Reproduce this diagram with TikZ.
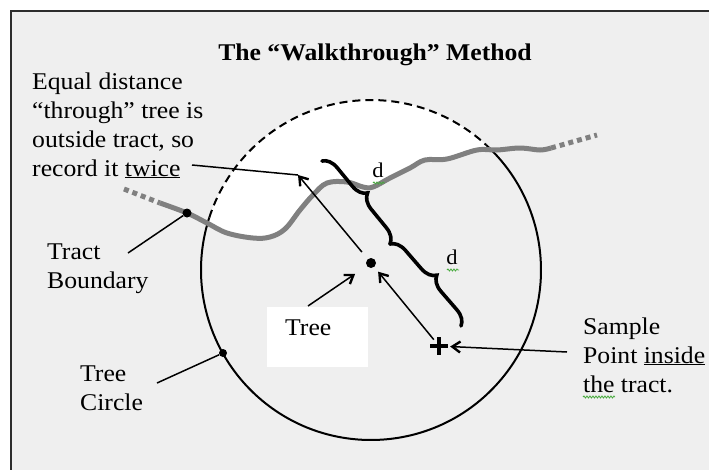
\documentclass[tikz,border=0pt]{standalone}
\usepackage{fontspec}
\setmainfont{Liberation Serif}[FakeStretch=1.07]
\usetikzlibrary{arrows.meta,decorations.pathreplacing,decorations.pathmorphing}
\definecolor{bgc}{RGB}{239,239,239}
\definecolor{framec}{RGB}{45,45,45}
\definecolor{bndc}{RGB}{128,128,128}
\definecolor{squigc}{RGB}{70,170,60}
\begin{document}
\begin{tikzpicture}[x=1pt,y=-1pt,
  lbl/.style={inner sep=0pt, anchor=base west, align=left, font=\fontsize{24}{29}\selectfont},
  ttl/.style={inner sep=0pt, anchor=base, font=\fontsize{24}{29}\selectfont\bfseries},
  dlbl/.style={inner sep=0pt, anchor=base, font=\fontsize{21}{24}\selectfont},
  dot/.style={circle, fill=black, inner sep=0pt, minimum size=#1},
  arr/.style={line width=1.5pt, -{Straight Barb[length=8pt,width=11pt,line width=2.4pt]}},
  leader/.style={line width=1.5pt},
  bnd/.style={bndc, line width=5pt},
  bracestyle/.style={decorate, decoration={brace, amplitude=15pt, aspect=0.5}, line width=3.6pt, line cap=round},
  squig/.style={squigc, line width=0.8pt, decorate, decoration={snake, segment length=3pt, amplitude=1pt}}]
\useasboundingbox (0,0) rectangle (709,469);
% frame and background
\fill[bgc] (11,11) rectangle (720,480);
\draw[framec, line width=2pt] (11,480) -- (11,11) -- (720,11);
% circle centre
\coordinate (c) at (371,270);
% white region inside circle above the tract boundary
\begin{scope}
  \clip (c) circle[radius=170];
  \fill[white!98!bgc] plot[smooth, tension=0.6] coordinates {(160,203) (187,213) (207,223) (227,233) (253,238) (270,237) (285,229) (300,210) (313,195) (327,183) (347,182) (363,187) (373,187) (390,178) (410,168) (425,160) (447,159) (477,150) (497,150) (520,148) (540,150) (560,148)} -- (560,80) -- (160,80) -- cycle;
\end{scope}
% tree circle
\draw[line width=2pt] ([shift={(-47.4:170)}]c) arc[start angle=-47.4, end angle=198, radius=170];
\draw[line width=2pt, dash pattern=on 8pt off 5pt] ([shift={(-162:170)}]c) arc[start angle=-162, end angle=-47.4, radius=170];
% tract boundary
\draw[bnd] plot[smooth, tension=0.6] coordinates {(160,203) (187,213) (207,223) (227,233) (253,238) (270,237) (285,229) (300,210) (313,195) (327,183) (347,182) (363,187) (373,187) (390,178) (410,168) (425,160) (447,159) (477,150) (497,150) (520,148) (540,150) (551,148)};
\draw[bnd, dash pattern=on 5pt off 4pt] (124,189) -- (160,203);
\draw[bnd, dash pattern=on 5pt off 4pt] (551,148) -- (597,135);
% title
\node[ttl] (title) at (375,60) {The “Walkthrough” Method};
% labels (base anchor = baseline of the last line)
\node[lbl] (eq) at (32,176) {Equal distance\\“through” tree is\\outside tract, so\\record it \underline{twice}};
\node[lbl] (tb) at (47,288) {Tract\\Boundary};
\node[lbl] (tc) at (80,410) {Tree\\Circle};
\node[lbl] (sp) at (583,392) {Sample\\Point \underline{inside}\\the tract.};
\node[fill=white, inner sep=0pt, minimum width=101pt, minimum height=60pt] (treebox) at (317.5,337) {};
\node[lbl] (treelbl) at (285,335) {Tree};
% braces
\draw[bracestyle] (322,161) -- (390,244);
\draw[bracestyle] (390,244) -- (461,326);
\node[dlbl] (d1) at (378,177) {d};
\node[dlbl] (d2) at (452,264) {d};
\draw[squig] (373,183) -- (385,183);
\draw[squig] (447,270) -- (459,270);
\draw[squig] (583,397) -- (615,397);
% points
\node[dot=10pt] (tree) at (371,263) {};
\node[dot=9pt] (tbdot) at (187,213) {};
\node[dot=8pt] (tcdot) at (223,353) {};
\node[circle, inner sep=0pt, minimum size=16pt] (cross) at (439,346) {};
\draw[line width=3.6pt] (430,346) -- (448,346) (439,337) -- (439,355);
% connector end points
\coordinate (thru) at (298,175);
\coordinate (eqend) at (192,165);
\coordinate (tbend) at (128,253);
\coordinate (tcend) at (157,383);
\coordinate (spend) at (567,352);
\coordinate (boxend) at (308,306);
% connectors
\draw[arr, shorten <=9pt] (tree) -- (thru);
\draw[leader] (eqend) -- (thru);
\draw[arr, shorten >=6pt] (cross) -- (tree);
\draw[arr, shorten >=14pt] (boxend) -- (tree);
\draw[arr, shorten >=3pt] (spend) -- (cross);
\draw[leader] (tbend) -- (tbdot);
\draw[leader] (tcend) -- (tcdot);
\end{tikzpicture}
\end{document}
